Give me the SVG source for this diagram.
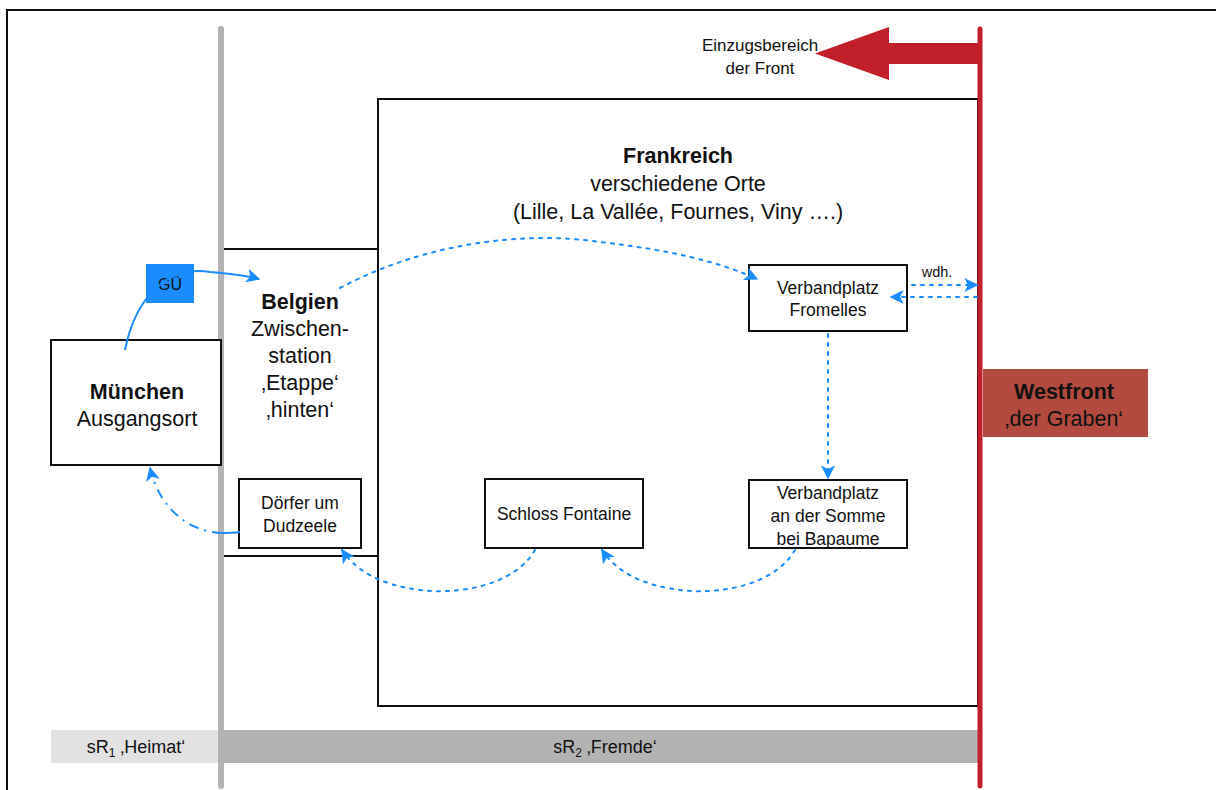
<svg xmlns="http://www.w3.org/2000/svg" width="1216" height="790" viewBox="0 0 1216 790">
<style>
text{font-family:"Liberation Sans",Arial,sans-serif;fill:#111;text-anchor:middle}
.box{fill:#fff;stroke:#111;stroke-width:2}
.big{font-size:21.5px}
.b{font-weight:bold}
.sm{font-size:17.5px}
.blue{fill:none;stroke:#1a8cff;stroke-width:2}
.dot{stroke-dasharray:3 6;stroke-linecap:round}
.dd{stroke-dasharray:10 6 2 6}
</style>
<defs>
<marker id="ah" viewBox="0 0 10 10" refX="9" refY="5" markerWidth="7" markerHeight="7" orient="auto" markerUnits="strokeWidth">
<path d="M0,0 L10,5 L0,10 L2.5,5 Z" fill="#1a8cff"/>
</marker>
</defs>
<rect width="1216" height="790" fill="#fff"/>
<path d="M7,790 V10 H1216" fill="none" stroke="#111" stroke-width="2"/>

<g id="bottom-bar">
<rect x="51" y="730" width="170" height="33" fill="#e2e2e2"/>
<rect x="221" y="730" width="757" height="33" fill="#b3b3b3"/>
<text x="136" y="753" font-size="18">sR<tspan font-size="12" dy="4">1</tspan><tspan dy="-4"> ‚Heimat‘</tspan></text>
<text x="605" y="753" font-size="18">sR<tspan font-size="12" dy="4">2</tspan><tspan dy="-4"> ‚Fremde‘</tspan></text>
</g>

<g id="frankreich">
<rect class="box" x="378" y="99" width="600" height="607"/>
<text class="big b" x="678" y="163">Frankreich</text>
<text class="big" x="678" y="191">verschiedene Orte</text>
<text class="big" x="678" y="219">(Lille, La Vallée, Fournes, Viny ….)</text>
</g>

<g id="belgien">
<path d="M221,249 H378 M221,556 H378" stroke="#111" stroke-width="2" fill="none"/>
<text class="big b" x="300" y="309">Belgien</text>
<text class="big" x="300" y="336">Zwischen-</text>
<text class="big" x="300" y="363">station</text>
<text class="big" x="300" y="390">‚Etappe‘</text>
<text class="big" x="300" y="417">‚hinten‘</text>
</g>

<g id="gray-line"><line x1="221" y1="29" x2="221" y2="786" stroke="#b3b3b3" stroke-width="6" stroke-linecap="round"/></g>

<g id="muenchen">
<rect class="box" x="51" y="340" width="170" height="125"/>
<text class="big b" x="137" y="399">München</text>
<text class="big" x="137" y="426">Ausgangsort</text>
</g>

<g id="westfront">
<rect x="983" y="369" width="165" height="68" fill="#b24a3f"/>
<text class="big b" x="1064" y="399">Westfront</text>
<text class="big" x="1064" y="426">‚der Graben‘</text>
</g>

<g id="red-line"><line x1="980" y1="29" x2="980" y2="786" stroke="#c11f29" stroke-width="5" stroke-linecap="round"/></g>

<g id="front-arrow">
<path d="M980,43 H889 V27 L815,53.5 L889,80 V64 H980 Z" fill="#c11f29"/>
<text x="760" y="51" font-size="17">Einzugsbereich</text>
<text x="760" y="74" font-size="17">der Front</text>
</g>

<g id="fromelles">
<rect class="box" x="749" y="265" width="158" height="66"/>
<text class="sm" x="828" y="294">Verbandplatz</text>
<text class="sm" x="828" y="316">Fromelles</text>
</g>

<g id="somme">
<rect class="box" x="749" y="480" width="158" height="68"/>
<text class="sm" x="828" y="499">Verbandplatz</text>
<text class="sm" x="828" y="522">an der Somme</text>
<text class="sm" x="828" y="545">bei Bapaume</text>
</g>

<g id="schloss">
<rect class="box" x="485" y="479" width="158" height="69"/>
<text class="sm" x="564" y="520">Schloss Fontaine</text>
</g>

<g id="doerfer">
<rect class="box" x="239" y="479" width="122" height="69"/>
<text class="sm" x="300" y="509">Dörfer um</text>
<text class="sm" x="300" y="532">Dudzeele</text>
</g>

<g id="gue">
<rect x="146" y="264" width="48" height="39" fill="#1a8cff"/>
<text x="170" y="290" font-size="16">GÜ</text>
</g>

<g id="connectors">
<path class="blue" d="M125,350 C135,300 165,265 210,272 C230,274 245,275 259,279" marker-end="url(#ah)"/>
<path class="blue dot" d="M340,288 C420,245 520,230 600,242 C670,250 720,262 757,279" marker-end="url(#ah)"/>
<path class="blue dot" d="M912,285 H977" marker-end="url(#ah)"/>
<text x="937" y="277" font-size="14.5">wdh.</text>
<path class="blue dot" d="M977,297 H891" marker-end="url(#ah)"/>
<path class="blue dot" d="M828,334 V478" marker-end="url(#ah)"/>
<path class="blue dot" d="M795,550 C775,585 720,595 680,590 C640,585 615,570 602,550" marker-end="url(#ah)"/>
<path class="blue dot" d="M535,550 C515,585 460,595 420,590 C380,585 355,570 342,550" marker-end="url(#ah)"/>
<path class="blue" d="M240,532 C234,533 228,533 222,533"/>
<path class="blue dd" d="M222,533 C190,532 160,510 150,468" marker-end="url(#ah)"/>
</g>
</svg>
